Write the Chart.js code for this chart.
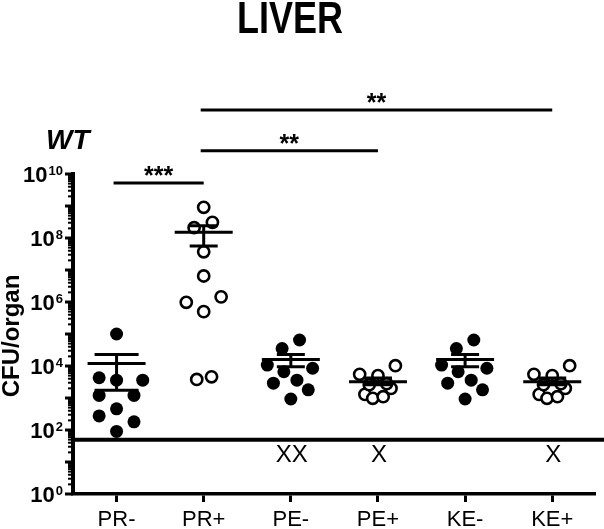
<!DOCTYPE html>
<html lang="en">
<head>
  <meta charset="UTF-8">
  <title>LIVER</title>
  <script src="https://cdn.jsdelivr.net/npm/chart.js"></script>
  <style>
    body { margin: 0; background: #fff; }
    canvas { display: block; }
  </style>
</head>
<body>
  <canvas id="liverChart" width="604" height="529"></canvas>

  <script>
    // categories along the x axis
    const categories = ['PR-', 'PR+', 'PE-', 'PE+', 'KE-', 'KE+'];

    // CFU/organ per animal, plus the horizontal spread of each dot (category units)
    const prMinus = [100000, 4300, 3600, 3600, 1200, 1200, 460, 275, 180, 90];
    const prMinusSpread = [0, -0.2, 0, 0.3, -0.2, 0.2, 0, -0.2, 0.2, 0];
    const prPlus = [910000000, 210000000, 310000000, 37000000, 6500000, 980000, 1450000, 500000, 3800, 4600];
    const prPlusSpread = [0, -0.11, 0.1, 0, 0, -0.2, 0.2, 0, -0.08, 0.09];
    const peMinus = [65000, 35000, 10700, 6600, 8500, 2900, 3600, 1800, 930];
    const peMinusSpread = [0.1, -0.1, -0.27, -0.08, 0.25, -0.2, 0.07, 0.2, 0];
    const pePlus = [10200, 5500, 5000, 1300, 980, 1100, 2000, 2600, 2800];
    const pePlusSpread = [0.2, -0.21, 0, -0.15, -0.06, 0.06, 0.15, -0.1, 0.1];
    const keMinus = [65000, 35000, 10700, 6600, 8500, 2900, 3600, 1800, 930];
    const keMinusSpread = [0.1, -0.1, -0.27, -0.08, 0.25, -0.2, 0.07, 0.2, 0];
    const kePlus = [10200, 5500, 5000, 1300, 980, 1100, 2000, 2600, 2800];
    const kePlusSpread = [0.2, -0.21, 0, -0.15, -0.06, 0.06, 0.15, -0.1, 0.1];

    // mean +/- SEM per group
    const groupMean = [12000, 150000000, 16000, 3200, 16000, 3200];
    const semUpper = [23000, 240000000, 23000, 4200, 23000, 4200];
    const semLower = [1750, 56000000, 9500, 2600, 9500, 2600];

    // detection limit and animals below it
    const detectionLimit = 50;
    const belowLimitMarks = ['', '', 'XX', 'X', '', 'X'];
    const belowLimitLevel = 16;

    // y tick labels are 10^exponent
    const yTickExponents = [0, 2, 4, 6, 8, 10];

    // significance brackets
    const sigFrom = [0, 1, 1];
    const sigTo = [1, 3, 5];
    const sigLevel = [5.2e9, 5.3e10, 1e12];
    const sigLabel = ['***', '**', '**'];

    const groupValues = [prMinus, prPlus, peMinus, pePlus, keMinus, kePlus];
    const groupSpread = [prMinusSpread, prPlusSpread, peMinusSpread, pePlusSpread, keMinusSpread, kePlusSpread];
    const capHalf = [22, 14, 14, 14, 14, 14];

    const datasets = groupValues.map((vals, g) => {
      const open = categories[g].endsWith('+');
      return {
        label: categories[g],
        data: vals.map((v, i) => ({ x: g + groupSpread[g][i], y: v })),
        pointRadius: open ? 5.6 : 6.5,
        pointBackgroundColor: open ? '#fff' : '#000',
        pointBorderColor: '#000',
        pointBorderWidth: open ? 2.6 : 0,
        clip: false
      };
    });

    const decorations = {
      id: 'decorations',
      afterDatasetsDraw(chart) {
        const c = chart.ctx;
        const xs = chart.scales.x;
        const ys = chart.scales.y;
        const area = chart.chartArea;
        c.save();
        c.strokeStyle = '#000';
        c.fillStyle = '#000';

        // mean and SEM
        groupMean.forEach((m, g) => {
          const x = xs.getPixelForValue(g);
          const ym = ys.getPixelForValue(m);
          const yh = ys.getPixelForValue(semUpper[g]);
          const yl = ys.getPixelForValue(semLower[g]);
          c.lineWidth = 3;
          c.beginPath();
          c.moveTo(x - 29, ym); c.lineTo(x + 29, ym);
          c.moveTo(x, yh); c.lineTo(x, yl);
          c.moveTo(x - capHalf[g], yh); c.lineTo(x + capHalf[g], yh);
          c.moveTo(x - capHalf[g], yl); c.lineTo(x + capHalf[g], yl);
          c.stroke();
        });

        // detection limit
        const yLim = ys.getPixelForValue(detectionLimit);
        c.lineWidth = 4;
        c.beginPath();
        c.moveTo(area.left, yLim); c.lineTo(chart.width, yLim);
        c.stroke();

        // X marks below the limit
        c.font = '24px "Liberation Sans", Arial, sans-serif';
        c.textAlign = 'center';
        c.textBaseline = 'middle';
        belowLimitMarks.forEach((t, g) => {
          if (t) c.fillText(t, xs.getPixelForValue(g) + 1, ys.getPixelForValue(belowLimitLevel));
        });

        // significance brackets
        sigLabel.forEach((t, i) => {
          const x1 = xs.getPixelForValue(sigFrom[i]) - 3;
          const x2 = xs.getPixelForValue(sigTo[i]);
          const y = ys.getPixelForValue(sigLevel[i]);
          c.lineWidth = 3;
          c.beginPath();
          c.moveTo(x1, y); c.lineTo(x2, y);
          c.stroke();
          c.font = 'bold 25px "Liberation Sans", Arial, sans-serif';
          c.textBaseline = 'alphabetic';
          c.fillText(t, (x1 + x2) / 2, y + 1);
        });

        // y axis ticks and 10^n labels
        for (let k = 0; k < 10; k++) {
          for (let m = 2; m <= 9; m++) {
            const y = ys.getPixelForValue(m * Math.pow(10, k));
            c.lineWidth = 2;
            c.beginPath();
            c.moveTo(area.left - 5, y); c.lineTo(area.left, y);
            c.stroke();
          }
        }
        for (let k = 0; k <= 10; k++) {
          const y = ys.getPixelForValue(Math.pow(10, k));
          c.lineWidth = 3;
          c.beginPath();
          c.moveTo(area.left - 8, y); c.lineTo(area.left, y);
          c.stroke();
        }
        yTickExponents.forEach(e => {
          const y = ys.getPixelForValue(Math.pow(10, e));
          const sup = String(e);
          c.font = 'bold 13px "Liberation Sans", Arial, sans-serif';
          const supW = c.measureText(sup).width;
          c.textAlign = 'right';
          c.textBaseline = 'alphabetic';
          c.fillText(sup, area.left - 10, y + 1);
          c.font = 'bold 22px "Liberation Sans", Arial, sans-serif';
          c.fillText('10', area.left - 11 - supW, y + 8);
        });

        // y axis title
        c.save();
        c.translate(12, (area.top + area.bottom) / 2 + 2);
        c.rotate(-Math.PI / 2);
        c.font = 'bold 24px "Liberation Sans", Arial, sans-serif';
        c.textAlign = 'center';
        c.textBaseline = 'middle';
        c.fillText('CFU/organ', 0, 0);
        c.restore();

        // titles (condensed look for the main title)
        c.save();
        c.scale(0.8, 1);
        c.font = 'bold 45px "Liberation Sans", Arial, sans-serif';
        c.textAlign = 'center';
        c.textBaseline = 'alphabetic';
        c.fillText('LIVER', 290 / 0.8, 33);
        c.restore();
        c.font = 'italic bold 28px "Liberation Sans", Arial, sans-serif';
        c.textAlign = 'left';
        c.textBaseline = 'alphabetic';
        c.fillText('WT', 46, 149);
        c.restore();
      }
    };

    new Chart(document.getElementById('liverChart').getContext('2d'), {
      type: 'scatter',
      data: { datasets: datasets },
      options: {
        responsive: false,
        devicePixelRatio: 1,
        animation: false,
        layout: { padding: { top: 174, right: 2, left: 0, bottom: 0 } },
        plugins: { legend: { display: false }, tooltip: { enabled: false } },
        scales: {
          x: {
            type: 'linear',
            min: -0.5,
            max: 5.5,
            afterBuildTicks: s => { s.ticks = categories.map((c, i) => ({ value: i })); },
            afterFit: s => { s.height = 35; },
            ticks: {
              callback: v => categories[v],
              color: '#000',
              font: { family: '"Liberation Sans", Arial, sans-serif', size: 22 },
              padding: 5,
              maxRotation: 0
            },
            grid: { drawOnChartArea: false, drawTicks: true, tickLength: 8, tickWidth: 3, tickColor: '#000' },
            border: { display: true, color: '#000', width: 3.5 }
          },
          y: {
            type: 'logarithmic',
            min: 1,
            max: 1e10,
            afterFit: s => { s.width = 73; },
            ticks: { display: false },
            grid: { display: false },
            border: { display: true, color: '#000', width: 4 }
          }
        }
      },
      plugins: [decorations]
    });
  </script>
</body>
</html>
